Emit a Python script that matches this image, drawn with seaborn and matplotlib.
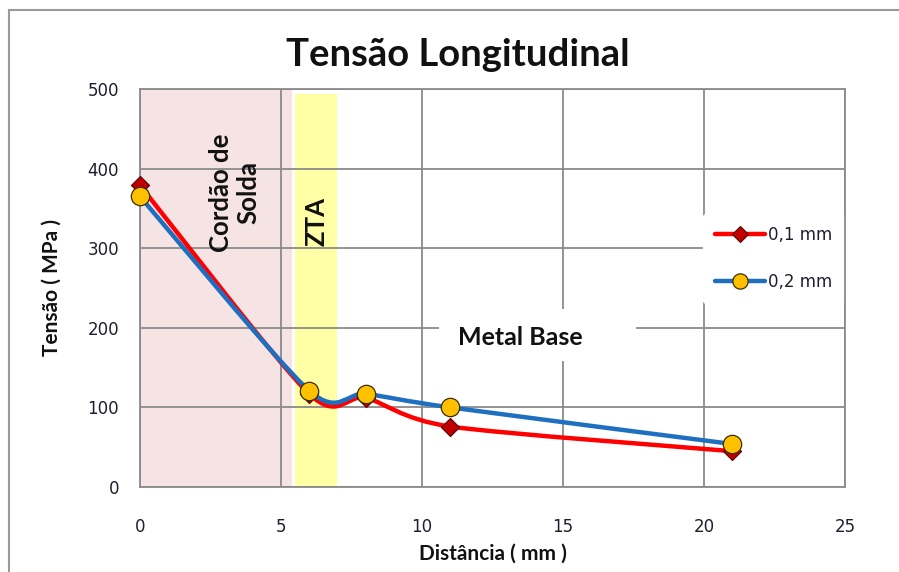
import numpy as np
import matplotlib
matplotlib.use("Agg")
import matplotlib.pyplot as plt
import seaborn as sns
import pandas as pd
from matplotlib.path import Path
from matplotlib.patches import PathPatch, Rectangle
from matplotlib.lines import Line2D

# ---- data ----
distance = [0, 6, 8, 11, 21]
tension_01 = [379, 117, 112, 76, 45]
tension_02 = [365, 121, 117, 100, 54]
series_names = ["0,1 mm", "0,2 mm"]
x_ticks = [0, 5, 10, 15, 20, 25]
y_ticks = [0, 100, 200, 300, 400, 500]
zone_cordao = (0, 5.4)
zone_zta = (5.5, 7.0)

sns.set_theme(style="white")
plt.rcParams['font.family'] = ['DejaVu Sans']

fig = plt.figure(figsize=(8.99, 5.72), dpi=100)
W, H = 899, 572
L, R, B, T = 140, 845, 487, 89
ax = fig.add_axes([L / W, 1 - B / H, (R - L) / W, (B - T) / H])

grid_c = "#8a8a8a"
ax.set_xlim(0, 25)
ax.set_ylim(0, 500)
ax.set_xticks(x_ticks)
ax.set_yticks(y_ticks)
ax.grid(True, color=grid_c, lw=1.3)
ax.set_axisbelow(True)
for s in ax.spines.values():
    s.set_color(grid_c)
    s.set_linewidth(1.3)
ax.spines["right"].set_zorder(8)
ax.tick_params(axis="both", which="major", direction="out", length=5, width=1.3,
               color=grid_c, labelsize=12, labelcolor="#1e1e2e", pad=10)
ax.tick_params(axis="x", pad=17)

# zones
ax.axvspan(*zone_cordao, ymin=0, ymax=1.0, color="#f6e4e4", zorder=0, lw=0)
ax.axvspan(*zone_zta, ymin=0, ymax=494 / 500, color="#ffffa6", zorder=0, lw=0)

# Metal Base label box
ax.add_patch(Rectangle((10.6, 158), 7.0, 66, facecolor="white", edgecolor="none", zorder=1.5))
ax.text(13.5, 188, "Metal Base", fontsize=18, fontweight="bold", family="Lato",
        ha="center", va="center", color="#111", zorder=2)
ax.text(3.35, 370, "Cordão de\nSolda", fontsize=18.5, fontweight="bold", family="Lato",
        rotation=90, ha="center", va="center", color="#111", linespacing=1.15, zorder=2)
ax.text(6.25, 334, "ZTA", fontsize=18.5, fontweight="bold", family="Lato",
        rotation=90, ha="center", va="center", color="#111", zorder=2)


def smooth_path(xs, ys, k=7.5):
    pts = np.column_stack([xs, ys]).astype(float)
    n = len(pts)
    verts = [pts[0]]
    codes = [Path.MOVETO]
    for i in range(n - 1):
        p0 = pts[i - 1] if i > 0 else pts[i]
        p1 = pts[i]
        p2 = pts[i + 1]
        p3 = pts[i + 2] if i + 2 < n else pts[i + 1]
        c1 = p1 + (p2 - p0) / k
        c2 = p2 - (p3 - p1) / k
        verts += [c1, c2, p2]
        codes += [Path.CURVE4] * 3
    return Path(verts, codes)


red = "#ff0000"
blue = "#1f6fc0"
ax.add_patch(PathPatch(smooth_path(distance, tension_01), fill=False, edgecolor=red,
                       lw=3.2, zorder=3, capstyle="round", joinstyle="round"))
df1 = pd.DataFrame({"x": distance, "y": tension_01})
sns.scatterplot(data=df1, x="x", y="y", marker="D", s=85, color="#c00000",
                edgecolor="#5a0000", linewidth=0.8, ax=ax, zorder=4, clip_on=False)
ax.add_patch(PathPatch(smooth_path(distance, tension_02), fill=False, edgecolor=blue,
                       lw=3.2, zorder=5, capstyle="round", joinstyle="round"))
df2 = pd.DataFrame({"x": distance, "y": tension_02})
sns.scatterplot(data=df2, x="x", y="y", marker="o", s=175, color="#ffc000",
                edgecolor="#3a3000", linewidth=0.9, ax=ax, zorder=6, clip_on=False)

ax.set_xlabel("Distância ( mm )", fontsize=15, fontweight="bold", family="Lato", color="#111")
ax.set_ylabel("Tensão ( MPa )", fontsize=15, fontweight="bold", family="Lato", color="#111")
ax.xaxis.set_label_coords(0.5, -57 / (B - T))
ax.yaxis.set_label_coords(-78 / (R - L), 0.5)

handles = [
    Line2D([], [], color=red, lw=3.2, marker="D", markersize=8, markerfacecolor="#c00000",
           markeredgecolor="#5a0000", markeredgewidth=0.8),
    Line2D([], [], color=blue, lw=3.2, marker="o", markersize=11, markerfacecolor="#ffc000",
           markeredgecolor="#3a3000", markeredgewidth=0.9),
]
leg = ax.legend(handles, series_names, loc="upper left",
                bbox_to_anchor=((703 - L) / (R - L), 1 - (214 - T) / (B - T)),
                frameon=True, facecolor="white", edgecolor="white", framealpha=1,
                fontsize=12, handlelength=3.0, handletextpad=0.2, labelspacing=1.75,
                borderpad=0.7, borderaxespad=0)
for t in leg.get_texts():
    t.set_color("#1e1e2e")
leg.set_zorder(7)

fig.text(458 / W, 1 - 55 / H, "Tensão Longitudinal", fontsize=27.5, fontweight="bold",
         family="Lato", ha="center", va="center", color="#111")

fig.add_artist(Rectangle((8.5 / W, -0.1), 1.2, 1 - 10 / H + 0.1, transform=fig.transFigure,
                         fill=False, edgecolor="#9a9a9a", lw=1.5, clip_on=False))

fig.savefig("out.png", dpi=100, facecolor="white")
